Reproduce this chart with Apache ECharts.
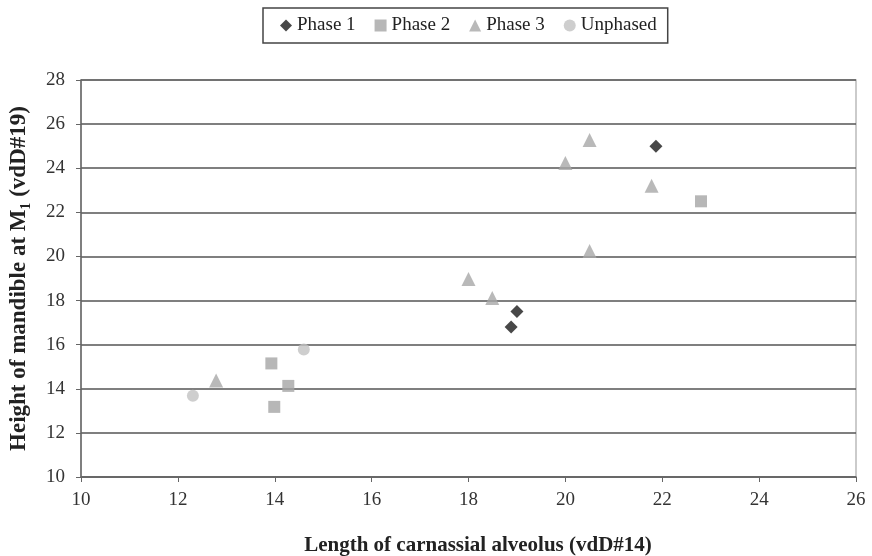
<!DOCTYPE html>
<html><head><meta charset="utf-8">
<script src="https://cdn.jsdelivr.net/npm/echarts@6/dist/echarts.min.js"></script>
<style>html,body{margin:0;padding:0;background:#fff}#c{width:872px;height:556px}</style>
</head><body><div id="c"></div>
<script>
const xTicks = [10,12,14,16,18,20,22,24,26];
const yTicks = [10,12,14,16,18,20,22,24,26,28];
const phase1 = [[21.87,25.0],[19.0,17.5],[18.88,16.8]];
const phase2 = [[22.8,22.5],[13.93,15.15],[14.28,14.13],[13.99,13.18]];
const phase3 = [[12.79,14.38],[18.0,18.98],[18.49,18.12],[20.0,24.24],[20.5,25.28],[21.78,23.2],[20.5,20.25]];
const unphased = [[12.31,13.68],[14.6,15.78]];
const seriesNames = ['Phase 1','Phase 2','Phase 3','Unphased'];

const font = '"Liberation Serif","Times New Roman",serif';
const chart = echarts.init(document.getElementById('c'));
chart.setOption({
  animation:false,
  backgroundColor:'#fff',
  textStyle:{fontFamily:font},
  legend:{
    top:8,left:263,
    itemWidth:12,itemHeight:12,itemGap:19,
    padding:[8,11,8,17],
    borderColor:'#444',borderWidth:1.5,
    textStyle:{fontFamily:font,fontSize:19,color:'#222'},
    data:seriesNames
  },
  grid:{left:81,right:16,top:80,bottom:79,show:true,borderColor:'#bbb',borderWidth:1.5,backgroundColor:'#fff',outerBoundsMode:'none',containLabel:false},
  xAxis:{
    type:'value',min:xTicks[0],max:xTicks[xTicks.length-1],interval:2,
    name:'Length of carnassial alveolus (vdD#14)',nameLocation:'middle',nameGap:58,
    nameTextStyle:{fontFamily:font,fontWeight:'bold',fontSize:21,color:'#222',padding:[0,0,0,19]},
    axisLine:{lineStyle:{color:'#666',width:1.5}},
    axisTick:{show:true,length:5,lineStyle:{color:'#666'}},
    axisLabel:{fontFamily:font,fontSize:19,color:'#333',margin:14},
    splitLine:{show:false}
  },
  yAxis:{
    type:'value',min:yTicks[0],max:yTicks[yTicks.length-1],interval:2,
    name:'Height of mandible at M₁ (vdD#19)',nameLocation:'middle',nameGap:50,
    nameTextStyle:{fontFamily:font,fontWeight:'bold',fontSize:23,color:'#222'},
    axisLine:{show:true,lineStyle:{color:'#666',width:1.5}},
    axisTick:{show:true,length:5,lineStyle:{color:'#666'}},
    axisLabel:{fontFamily:font,fontSize:19,color:'#333',margin:16},
    splitLine:{show:true,lineStyle:{color:'#555',width:1.5}}
  },
  series:[
    {name:seriesNames[0],type:'scatter',data:phase1,symbol:'diamond',symbolSize:13,itemStyle:{color:'#1a1a1a'},z:5},
    {name:seriesNames[1],type:'scatter',data:phase2,symbol:'rect',symbolSize:12,itemStyle:{color:'#a5a5a5'}},
    {name:seriesNames[2],type:'scatter',data:phase3,symbol:'triangle',symbolSize:14,itemStyle:{color:'#a8a8a8'}},
    {name:seriesNames[3],type:'scatter',data:unphased,symbol:'circle',symbolSize:12,itemStyle:{color:'#c2c2c2'}}
  ]
});
</script></body></html>
